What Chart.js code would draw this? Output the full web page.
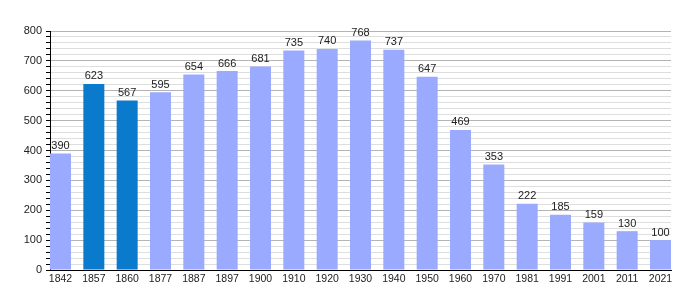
<!DOCTYPE html>
<html>
<head>
<meta charset="utf-8">
<script src="https://cdn.jsdelivr.net/npm/chart.js@4/dist/chart.umd.min.js"></script>
<style>
    html, body { margin: 0; padding: 0; background: #fff; }
    #wrap { width: 700px; height: 300px; }
</style>
</head>
<body>
<div id="wrap"><canvas id="pop"></canvas></div>
<script>
// dati del grafico
const years = ["1842", "1857", "1860", "1877", "1887", "1897", "1900", "1910", "1920", "1930",
    "1940", "1950", "1960", "1970", "1981", "1991", "2001", "2011", "2021"]
const population = [390, 623, 567, 595, 654, 666, 681, 735, 740, 768,
    737, 647, 469, 353, 222, 185, 159, 130, 100]
const highlighted = ["1857", "1860"]
const yTicks = [0, 100, 200, 300, 400, 500, 600, 700, 800]

const LIGHT = "#99aaff"
const DARK = "#0a7acc"
const EDGE = 0.315 // margine (in categorie) tra l'asse e la prima/ultima barra
const FONT = "'Liberation Sans', Arial, sans-serif"

// etichette dei valori sopra le barre
const valueLabels = {
    id: "valueLabels",
    afterDatasetsDraw(chart) {
        const ctx = chart.ctx
        const meta = chart.getDatasetMeta(0)
        ctx.save()
        ctx.font = "11px " + FONT
        ctx.fillStyle = "#222"
        ctx.textAlign = "center"
        ctx.textBaseline = "bottom"
        meta.data.forEach((bar, i) => {
            ctx.fillText(String(population[i]), bar.x, bar.y - 2)
        })
        ctx.restore()
    },
}

function main() {
    new Chart(document.getElementById("pop"), {
        type: "bar",
        data: {
            labels: years,
            datasets: [
                {
                    data: population,
                    backgroundColor: years.map(y => highlighted.includes(y) ? DARK : LIGHT),
                    borderWidth: 0,
                    barPercentage: 0.63,
                    categoryPercentage: 1,
                },
            ],
        },
        options: {
            responsive: true,
            maintainAspectRatio: false,
            animation: false,
            layout: {
                padding: { left: 0, right: 29, top: 31, bottom: 0 },
            },
            scales: {
                x: {
                    offset: false,
                    grid: { display: false, drawTicks: false },
                    border: { color: "#000", width: 1 },
                    ticks: {
                        autoSkip: false,
                        maxRotation: 0,
                        padding: 3,
                        color: "#222",
                        font: { family: FONT, size: 10.5 },
                    },
                    // la prima barra tocca l'asse y, l'ultima il bordo destro
                    afterBuildTicks: s => {
                        s._startValue = -EDGE
                        s._valueRange = years.length - 1 + 2 * EDGE
                    },
                    afterFit: s => { s.height = 30 },
                },
                y: {
                    min: 0,
                    max: 800,
                    border: { color: "#000", width: 1 },
                    grid: {
                        color: c => (c.tick.value % 100 === 0 ? "#b4b4b4" : "#dedede"),
                        tickColor: "#000",
                        tickLength: 4,
                    },
                    ticks: {
                        stepSize: 20,
                        autoSkip: false,
                        padding: 4,
                        color: "#222",
                        font: { family: FONT, size: 11 },
                        callback: v => (yTicks.includes(v) ? v : ""),
                    },
                    afterFit: s => { s.width = 50 },
                },
            },
            plugins: {
                legend: { display: false },
                tooltip: { enabled: false },
            },
        },
        plugins: [valueLabels],
    })
}

document.addEventListener("DOMContentLoaded", main)
</script>
</body>
</html>
